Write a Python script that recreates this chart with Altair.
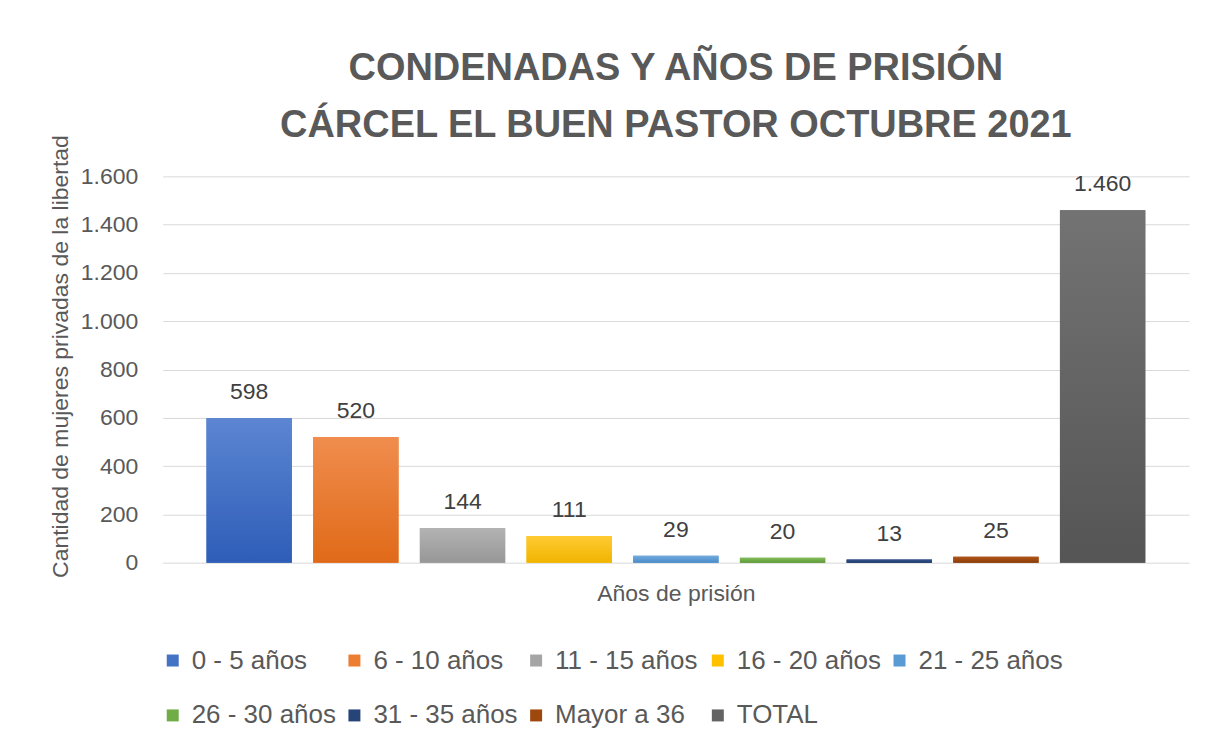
import altair as alt
import pandas as pd

categories = ["0 - 5 años", "6 - 10 años", "11 - 15 años", "16 - 20 años", "21 - 25 años",
              "26 - 30 años", "31 - 35 años", "Mayor a 36", "TOTAL"]
values = [598, 520, 144, 111, 29, 20, 13, 25, 1460]
colors = ["#4472C4", "#ED7D31", "#A5A5A5", "#FFC000", "#5B9BD5",
          "#70AD47", "#264478", "#9E480E", "#636363"]
tops = ["#5C86D2", "#F08D4E", "#B3B3B3", "#FFCB33", "#73ABDD",
        "#82BB5B", "#34558F", "#B0561A", "#737373"]
bottoms = ["#2E5DB8", "#E06A18", "#979797", "#F0B400", "#4A8BC9",
           "#5E9A38", "#1C3868", "#8C3C08", "#555555"]
y_ticks = [0, 200, 400, 600, 800, 1000, 1200, 1400, 1600]

df = pd.DataFrame({"cat": categories, "val": values})

FONT = "Liberation Sans, Arial, sans-serif"
GREY = "#595959"

x_enc = alt.X("cat:N", sort=categories,
              scale=alt.Scale(paddingInner=0.2, paddingOuter=0.41),
              axis=alt.Axis(labels=False, ticks=False, domain=False,
                            title="Años de prisión", titleFontSize=23,
                            titleFontWeight="normal", titleColor=GREY,
                            titleFont=FONT, titlePadding=20))
y_enc = alt.Y("val:Q", scale=alt.Scale(domain=[0, 1600]),
              axis=alt.Axis(values=y_ticks, domain=False, ticks=False,
                            labelExpr="replace(format(datum.value, ','), ',', '.')",
                            labelFontSize=23, labelColor=GREY, labelFont=FONT,
                            labelPadding=25, gridColor="#D9D9D9",
                            title="Cantidad de mujeres privadas de la libertad",
                            titleFontSize=23, titleFontWeight="normal",
                            titleColor=GREY, titleFont=FONT, titlePadding=8,
                            titleY=180))

base = alt.Chart(df).mark_bar().encode(
    x=x_enc, y=y_enc,
    color=alt.Color("cat:N", sort=categories,
                    scale=alt.Scale(domain=categories, range=colors),
                    legend=alt.Legend(orient="none", legendX=-3, legendY=472,
                                      direction="horizontal", columns=5,
                                      title=None, symbolType="square",
                                      symbolSize=144, symbolStrokeWidth=0,
                                      labelFontSize=26, labelColor=GREY,
                                      labelFont=FONT, labelLimit=300,
                                      columnPadding=5, rowPadding=29,
                                      gridAlign="all", labelOffset=6))
)

layers = [base]
for c, t, b in zip(categories, tops, bottoms):
    layers.append(
        alt.Chart(df).transform_filter(alt.datum.cat == c).mark_bar(
            fill=alt.Gradient(gradient="linear",
                              stops=[alt.GradientStop(color=t, offset=0),
                                     alt.GradientStop(color=b, offset=1)],
                              x1=0, x2=0, y1=0, y2=1)
        ).encode(x=alt.X("cat:N", sort=categories), y=alt.Y("val:Q"))
    )

text = alt.Chart(df).transform_calculate(
    lbl="replace(format(datum.val, ','), ',', '.')"
).mark_text(dy=-26, fontSize=23, color="#404040", font=FONT).encode(
    x=alt.X("cat:N", sort=categories), y=alt.Y("val:Q"), text="lbl:N")
layers.append(text)

chart = alt.layer(*layers).properties(
    width=1028, height=387,
    title=alt.TitleParams(["CONDENADAS Y AÑOS DE PRISIÓN",
                           "CÁRCEL EL BUEN PASTOR OCTUBRE 2021"],
                          fontSize=38, font=FONT, fontWeight="bold",
                          color=GREY, lineHeight=57, offset=-10, anchor="middle"),
    padding={"left": 41, "top": 41, "right": 20, "bottom": 10}
).configure_view(stroke=None)

chart.save("out.html", embed_options={"renderer": "svg", "actions": False})
